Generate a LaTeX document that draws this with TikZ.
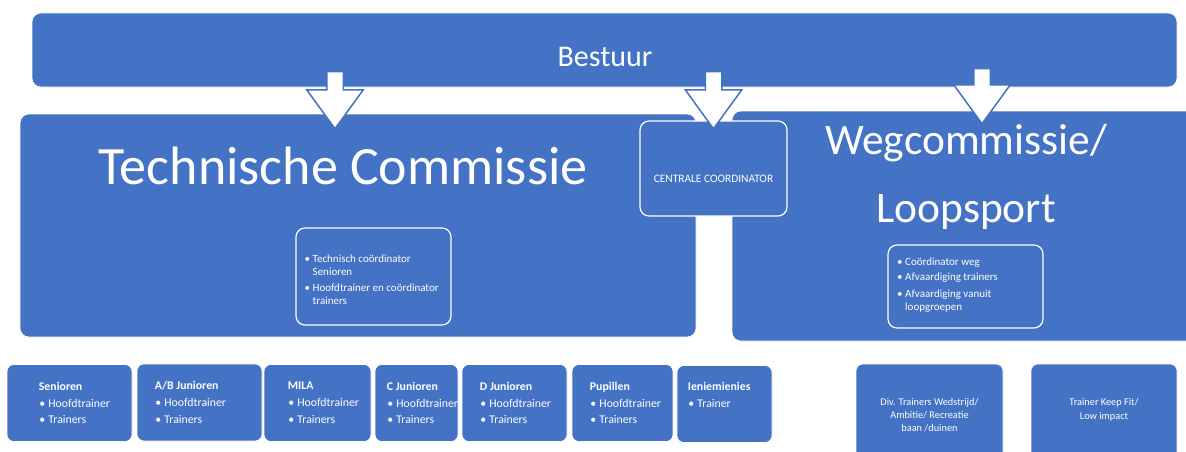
\documentclass[tikz,border=0pt]{standalone}
\usepackage{fontspec}
\setmainfont{Carlito}
\usepackage{tikz}
\usetikzlibrary{shapes.arrows}
\definecolor{boxblue}{HTML}{4472C4}
\newcommand{\blt}{\makebox[8pt][l]{\textbullet}}
\newcommand{\cnt}{\hspace*{8pt}}
\newcommand{\unitblt}{\hspace*{0.5pt}\makebox[9pt][l]{\textbullet}}

\begin{document}
\begin{tikzpicture}[x=1pt, y=-1pt,
  every node/.style = {text=white, inner sep=0pt},
  bigbox/.style = {shape=rectangle, rounded corners=9pt, draw=white,
    line width=0.6pt, fill=boxblue},
  subbox/.style = {shape=rectangle, rounded corners=9pt, draw=white,
    line width=1.2pt, fill=boxblue},
  unit/.style = {shape=rectangle, rounded corners=7pt, draw=white,
    line width=0.6pt, fill=boxblue, minimum height=77pt},
  unittext/.style = {anchor=west, align=left,
    font=\fontsize{11.8}{16.8}\selectfont},
  trainerbox/.style = {shape=rectangle, rounded corners=7pt, draw=white,
    line width=0.6pt, fill=boxblue, minimum height=103pt, align=center,
    font=\fontsize{10.3}{12.5}\selectfont},
  itemtext/.style = {anchor=north west, align=left,
    font=\fontsize{11}{13}\selectfont},
  downarrow/.style = {shape=single arrow, shape border rotate=270,
    draw=boxblue, line width=1.5pt, fill=white, inner sep=7.5pt,
    single arrow head extend=20pt, single arrow tip angle=72,
    minimum height=57pt, anchor=tip}]

  \path[use as bounding box, fill=white] (0,0) rectangle (1186,452);

  \node[bigbox, minimum width=1145pt, minimum height=74pt] (bestuur) at (604.5,50) {};
  \node[font=\fontsize{30}{36}\selectfont] (bestuur-txt) at (605,57) {Bestuur};

  \node[bigbox, minimum width=676pt, minimum height=223pt] (tc) at (358,225.5) {};
  \node[font=\fontsize{54}{60}\selectfont] (tc-txt) at (343,166) {Technische Commissie};

  \node[bigbox, minimum width=470pt, minimum height=230pt] (weg) at (967,226) {};
  \node[align=center, font=\fontsize{43.5}{68}\selectfont] (weg-txt) at (966,177)
    {Wegcommissie/\\Loopsport};

  \node[subbox, minimum width=147pt, minimum height=95pt] (cc) at (713.5,168.5) {};
  \node[font=\fontsize{11.4}{13}\selectfont] (cc-txt) at (713.5,179) {CENTRALE COORDINATOR};

  \node[subbox, minimum width=155pt, minimum height=97pt] (tc-sub) at (373.5,276.5) {};
  \node[itemtext] (tc-sub-txt) at (304.5,255)
    {\blt Technisch coördinator\\ \cnt Senioren\\[3pt]
     \blt Hoofdtrainer en coördinator\\ \cnt trainers};

  \node[subbox, minimum width=155pt, minimum height=83pt] (weg-sub) at (965.5,286.5) {};
  \node[itemtext] (weg-sub-txt) at (897,257.5)
    {\blt Coördinator weg\\[2pt]
     \blt Afvaardiging trainers\\[4pt]
     \blt Afvaardiging vanuit\\ \cnt loopgroepen};

  \node[downarrow] (arr-tc) at (335,130) {};
  \node[downarrow] (arr-cc) at (713.5,130) {};
  \node[downarrow, minimum height=55pt] (arr-weg) at (982,125) {};

  \node[unit, minimum width=125pt] (senioren) at (69.5,403) {};
  \node[unittext] (senioren-txt) at ([xshift=32pt]senioren.west)
    {\textbf{Senioren}\\ \unitblt Hoofdtrainer\\ \unitblt Trainers};
  \node[unit, minimum width=125pt] (ab-jun) at (199.5,402.5) {};
  \node[unittext] (ab-jun-txt) at ([xshift=18pt]ab-jun.west)
    {\textbf{A/B Junioren}\\ \unitblt Hoofdtrainer\\ \unitblt Trainers};
  \node[unit, minimum width=107pt] (mila) at (317.5,403) {};
  \node[unittext] (mila-txt) at ([xshift=24pt]mila.west)
    {\textbf{MILA}\\ \unitblt Hoofdtrainer\\ \unitblt Trainers};
  \node[unit, minimum width=83pt] (c-jun) at (416.5,403) {};
  \node[unittext] (c-jun-txt) at ([xshift=12pt]c-jun.west)
    {\textbf{C Junioren}\\ \unitblt Hoofdtrainer\\ \unitblt Trainers};
  \node[unit, minimum width=105pt] (d-jun) at (514.5,403) {};
  \node[unittext] (d-jun-txt) at ([xshift=18pt]d-jun.west)
    {\textbf{D Junioren}\\ \unitblt Hoofdtrainer\\ \unitblt Trainers};
  \node[unit, minimum width=101pt] (pupillen) at (622.5,403) {};
  \node[unittext] (pupillen-txt) at ([xshift=18pt]pupillen.west)
    {\textbf{Pupillen}\\ \unitblt Hoofdtrainer\\ \unitblt Trainers};
  \node[unit, minimum width=95pt] (ieniemienies) at (724.5,404) {};
  \node[unittext] (ieniemienies-txt) at ([xshift=11pt, yshift=0.5pt]ieniemienies.west)
    {\textbf{Ieniemienies}\\ \unitblt Trainer\\ \mbox{}};

  \node[trainerbox, minimum width=147pt] (div-trainers) at (929.5,415.5)
    {Div. Trainers Wedstrijd/\\ Ambitie/ Recreatie\\[1pt] baan /duinen};
  \node[trainerbox, minimum width=146pt] (keepfit) at (1104,415.5)
    {Trainer Keep Fit/\\[1.5pt] Low impact\\[1pt] \mbox{}};
\end{tikzpicture}
\end{document}
